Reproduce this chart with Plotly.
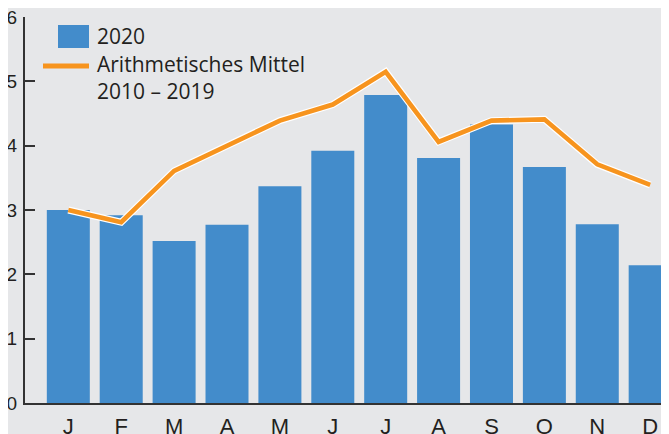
import plotly.graph_objects as go

months = ["J", "F", "M", "A", "M", "J", "J", "A", "S", "O", "N", "D"]
values_2020 = [3.00, 2.92, 2.52, 2.77, 3.37, 3.92, 4.79, 3.81, 4.33, 3.67, 2.78, 2.14]
mean_2010_2019 = [3.00, 2.81, 3.61, 4.01, 4.39, 4.64, 5.15, 4.06, 4.39, 4.41, 3.71, 3.39]
y_ticks = [0, 1, 2, 3, 4, 5, 6]

BG = "#e6e7e9"
BLUE = "#438ccb"
ORANGE = "#f7941e"
TXT = "#231f20"
AX = "#333333"
FONT = "Liberation Sans, Arial, sans-serif"
LEG_FONT = "Open Sans, Liberation Sans, sans-serif"

xs = list(range(len(months)))

fig = go.Figure()
fig.add_trace(go.Bar(x=xs, y=values_2020, marker=dict(color=BLUE, line=dict(width=0)),
                     name="2020", showlegend=False))
fig.add_trace(go.Scatter(x=xs, y=mean_2010_2019, mode="lines",
                         line=dict(color="white", width=7), showlegend=False, hoverinfo="skip"))
fig.add_trace(go.Scatter(x=xs, y=mean_2010_2019, mode="lines",
                         line=dict(color=ORANGE, width=4.6), name="Arithmetisches Mittel 2010 – 2019",
                         showlegend=False))

# page body has an 8px margin: figure is drawn 8px right/down of the window origin
OFF = 8
W, H = 669 - OFF, 434 - OFF
L, T = 25 - OFF, 17 - OFF
PLOT_BOTTOM = 403 - OFF
B = H - PLOT_BOTTOM
PW = W - L
PH = PLOT_BOTTOM - T

def px(xref):  # reference-window pixel -> paper
    return (xref - 25) / PW

def py(yref):
    return (403 - yref) / PH

fig.update_layout(
    width=W, height=H,
    margin=dict(l=L, r=0, t=T, b=B, pad=0, autoexpand=False),
    paper_bgcolor=BG, plot_bgcolor=BG,
    bargap=0.187,
    font=dict(family=FONT, color=TXT, size=18),
    xaxis=dict(range=[-0.819, 11.356], tickmode="array", tickvals=xs, ticktext=months,
               showgrid=False, zeroline=False, showline=True, linecolor=AX, linewidth=1.5,
               ticks="", tickfont=dict(size=22, color=TXT), ticklabelstandoff=3,
               automargin=False, fixedrange=True),
    yaxis=dict(range=[0, 6.001], tickmode="array", tickvals=y_ticks, ticktext=[str(v) for v in y_ticks],
               showgrid=False, zeroline=False, showline=True, linecolor=AX, linewidth=2,
               ticks="inside", ticklen=10, tickwidth=1.5, tickcolor=AX, ticklabeloverflow="allow",
               tickfont=dict(size=19, color=TXT), ticklabelstandoff=2,
               automargin=False, fixedrange=True),
    shapes=[
        dict(type="rect", xref="paper", yref="paper", x0=px(58), x1=px(89), y0=py(48), y1=py(25),
             fillcolor=BLUE, line=dict(width=0)),
        dict(type="line", xref="paper", yref="paper", x0=px(43), x1=px(89), y0=py(66), y1=py(66),
             line=dict(color=ORANGE, width=5)),
    ],
    annotations=[
        dict(text="2020", xref="paper", yref="paper", x=px(95), y=py(36.5), xanchor="left",
             yanchor="middle", showarrow=False, font=dict(family=LEG_FONT, size=21, color=TXT)),
        dict(text="Arithmetisches Mittel<br>2010 – 2019", xref="paper", yref="paper", x=px(95),
             y=py(77), xanchor="left", yanchor="middle", align="left", showarrow=False,
             font=dict(family=LEG_FONT, size=21, color=TXT)),
    ],
)

fig.write_html("out.html")
